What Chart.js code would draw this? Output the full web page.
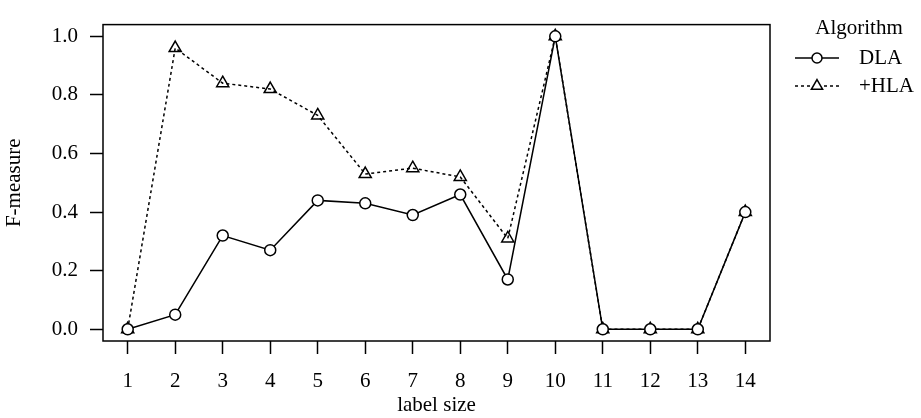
<!DOCTYPE html>
<html>
<head>
<meta charset="utf-8">
<script src="https://cdn.jsdelivr.net/npm/chart.js@4"></script>
<style>
html,body{margin:0;padding:0;background:#fff;}
#wrap{width:921px;height:418px;}
</style>
</head>
<body>
<div id="wrap"><canvas id="c" width="921" height="418"></canvas></div>
<script>
const labelSizes = [1,2,3,4,5,6,7,8,9,10,11,12,13,14];
const dlaValues = [0,0.05,0.32,0.27,0.44,0.43,0.39,0.46,0.17,1.0,0,0,0,0.40];
const hlaValues = [0,0.96,0.84,0.82,0.73,0.53,0.55,0.52,0.31,1.0,0,0,0,0.40];
const yTicks = [0,0.2,0.4,0.6,0.8,1.0];
const seriesNames = ['DLA','+HLA'];
const legendTitle = 'Algorithm';
const xTitle = 'label size';
const yTitle = 'F-measure';

const FONT = '"Liberation Serif", "DejaVu Serif", serif';
const FS = 21;

const boxPlugin = {
  id: 'box',
  afterDraw(chart) {
    const {ctx, chartArea: a} = chart;
    ctx.save();
    ctx.strokeStyle = '#000';
    ctx.lineWidth = 1.5;
    ctx.setLineDash([]);
    ctx.strokeRect(a.left, a.top, a.right - a.left, a.bottom - a.top);
    ctx.restore();
  }
};

const legendPlugin = {
  id: 'rlegend',
  afterDraw(chart) {
    const ctx = chart.ctx;
    ctx.save();
    ctx.fillStyle = '#000';
    ctx.strokeStyle = '#000';
    ctx.font = FS + 'px ' + FONT;
    ctx.textBaseline = 'middle';
    ctx.textAlign = 'center';
    ctx.fillText(legendTitle, 859, 28);
    ctx.textAlign = 'left';
    const ys = [58, 86];
    const x0 = 795, x1 = 839, xm = 817;
    ctx.lineWidth = 1.5;
    chart.data.datasets.forEach((ds, i) => {
      const y = ys[i];
      ctx.setLineDash(ds.borderDash || []);
      ctx.beginPath();
      if (ds.pointStyle === 'circle') {
        ctx.moveTo(x0, y); ctx.lineTo(x1, y);
      } else {
        ctx.moveTo(x0, y); ctx.lineTo(xm - 7, y);
        ctx.moveTo(xm + 7, y); ctx.lineTo(x1, y);
      }
      ctx.stroke();
      ctx.setLineDash([]);
      ctx.beginPath();
      if (ds.pointStyle === 'circle') {
        ctx.fillStyle = '#fff';
        ctx.arc(xm, y, 5, 0, Math.PI * 2);
        ctx.fill();
      } else {
        const r = 6.5;
        ctx.moveTo(xm, y - r);
        ctx.lineTo(xm + r * Math.sin(2 * Math.PI / 3), y - r * Math.cos(2 * Math.PI / 3));
        ctx.lineTo(xm + r * Math.sin(4 * Math.PI / 3), y - r * Math.cos(4 * Math.PI / 3));
        ctx.closePath();
      }
      ctx.stroke();
      ctx.fillStyle = '#000';
      ctx.fillText(ds.label, 859, y);
    });
    ctx.restore();
  }
};

const toPts = vals => labelSizes.map((x, i) => ({x: x, y: vals[i]}));

new Chart(document.getElementById('c'), {
  type: 'line',
  data: {
    datasets: [
      {
        label: seriesNames[0],
        data: toPts(dlaValues),
        borderColor: '#000',
        borderWidth: 1.5,
        pointStyle: 'circle',
        pointRadius: 5.5,
        pointBorderWidth: 1.5,
        pointBorderColor: '#000',
        pointBackgroundColor: '#fff',
        tension: 0,
        fill: false
      },
      {
        label: seriesNames[1],
        data: toPts(hlaValues),
        borderColor: '#000',
        borderWidth: 1.5,
        borderDash: [3, 3],
        pointStyle: 'triangle',
        pointRadius: 7,
        pointBorderWidth: 1.5,
        pointBorderColor: '#000',
        pointBackgroundColor: 'rgba(0,0,0,0)',
        tension: 0,
        fill: false
      }
    ]
  },
  options: {
    responsive: false,
    animation: false,
    events: [],
    layout: {padding: {left: 0, top: 7, right: 151, bottom: 0}},
    plugins: {legend: {display: false}, tooltip: {enabled: false}},
    scales: {
      x: {
        type: 'linear',
        min: 0.48,
        max: 14.52,
        afterBuildTicks: s => { s.ticks = labelSizes.map(v => ({value: v})); },
        afterFit: s => { s.height = 77; },
        grid: {display: true, drawOnChartArea: false, drawTicks: true, tickLength: 13, tickWidth: 1.5, tickColor: '#000'},
        border: {display: false},
        ticks: {
          color: '#000', padding: 15, maxRotation: 0, autoSkip: false,
          font: {family: FONT, size: FS},
          callback: v => String(v)
        },
        title: {display: true, text: xTitle, color: '#000', font: {family: FONT, size: FS}, padding: {top: 0, bottom: 0}}
      },
      y: {
        type: 'linear',
        min: -0.04,
        max: 1.04,
        afterBuildTicks: s => { s.ticks = yTicks.map(v => ({value: v})); },
        afterFit: s => { s.width = 103; },
        grid: {display: true, drawOnChartArea: false, drawTicks: true, tickLength: 13, tickWidth: 1.5, tickColor: '#000'},
        border: {display: false},
        ticks: {
          color: '#000', padding: 12, autoSkip: false,
          font: {family: FONT, size: FS},
          callback: v => Number(v).toFixed(1)
        },
        title: {display: true, text: yTitle, color: '#000', font: {family: FONT, size: FS}, padding: {top: 2, bottom: 0}}
      }
    }
  },
  plugins: [boxPlugin, legendPlugin]
});
</script>
</body>
</html>
